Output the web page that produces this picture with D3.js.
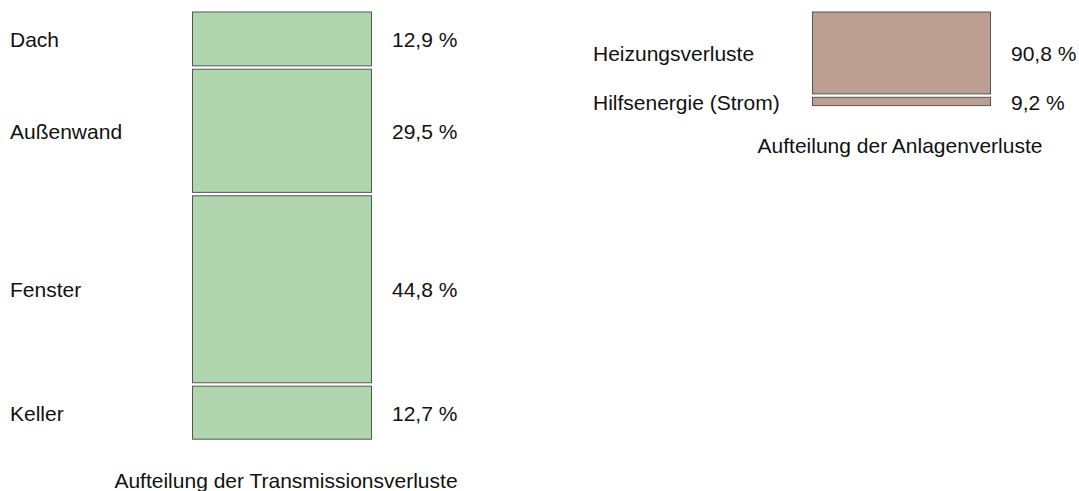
<!DOCTYPE html>
<html><head><meta charset="utf-8">
<script src="https://cdn.jsdelivr.net/npm/d3@7"></script>
<style>body{margin:0;background:#fff;} text{font-family:"Liberation Sans",Arial,sans-serif;fill:#111;}</style>
</head><body>
<svg id="c" width="1079" height="491"></svg>
<script>
const transCategories = ["Dach", "Außenwand", "Fenster", "Keller"];
const transValues = [12.9, 29.5, 44.8, 12.7];
const transTitle = "Aufteilung der Transmissionsverluste";
const anlCategories = ["Heizungsverluste", "Hilfsenergie (Strom)"];
const anlValues = [90.8, 9.2];
const anlTitle = "Aufteilung der Anlagenverluste";

const svg = d3.select("#c");
const FS = 21;
const fmt = v => d3.format(".1f")(v).replace(".", ",") + " %";

function drawStack(cfg) {
  const {cats, vals, x0, x1, top, totalH, gap, fill, labelX, valueX, title, titleX, titleY} = cfg;
  const y = d3.scaleLinear().domain([0, 100]).range([0, totalH]);
  let acc = 0;
  const rows = vals.map((v, i) => {
    const r = {cat: cats[i], v, y0: top + y(acc) + i * gap, h: y(v)};
    acc += v;
    return r;
  });
  const g = svg.append("g");
  g.selectAll("rect").data(rows).join("rect")
    .attr("x", x0 + 0.5).attr("y", d => d.y0 + 0.5)
    .attr("width", x1 - x0).attr("height", d => d.h)
    .attr("fill", fill).attr("stroke", "#555").attr("stroke-width", 1);
  const base = d => d.y0 + d.h / 2 + FS * 0.36 + 1;
  g.selectAll("text.cat").data(rows).join("text").attr("class", "cat")
    .attr("x", labelX).attr("y", base)
    .attr("font-size", FS).text(d => d.cat);
  g.selectAll("text.val").data(rows).join("text").attr("class", "val")
    .attr("x", valueX).attr("y", base)
    .attr("font-size", FS).text(d => fmt(d.v));
  g.append("text").attr("x", titleX).attr("y", titleY).attr("text-anchor", "middle")
    .attr("font-size", FS).text(title);
}

drawStack({cats: transCategories, vals: transValues, x0: 192, x1: 371, top: 11.5, totalH: 417.4, gap: 3.4,
  fill: "#b0d6b0", labelX: 10, valueX: 392, title: transTitle, titleX: 286, titleY: 488});
drawStack({cats: anlCategories, vals: anlValues, x0: 812, x1: 990, top: 11.5, totalH: 90.2, gap: 3.4,
  fill: "#bc9e93", labelX: 593, valueX: 1011, title: anlTitle, titleX: 900, titleY: 153});
</script>
</body></html>
